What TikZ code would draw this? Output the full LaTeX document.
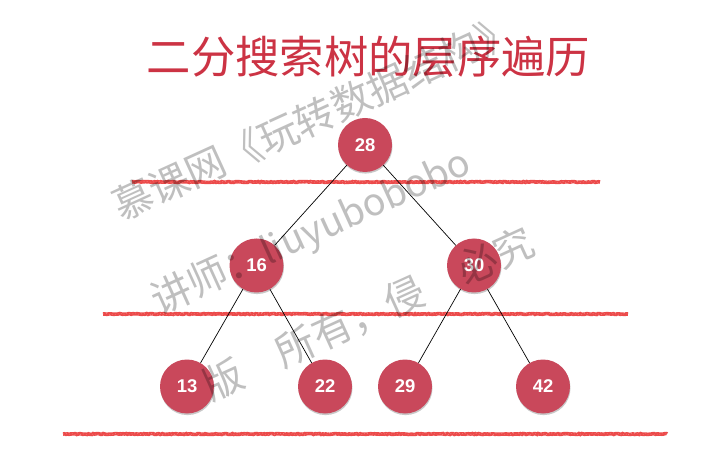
\documentclass[tikz,border=0pt]{standalone}
\usepackage{fontspec}
\setmainfont{Liberation Sans}
\newfontfamily\cjk{Noto Sans CJK SC}
\usetikzlibrary{shadows,decorations.pathmorphing}
\definecolor{nodered}{RGB}{201,72,91}
\definecolor{titlered}{RGB}{204,51,68}
\definecolor{linered}{RGB}{236,74,74}
\begin{document}
\begin{tikzpicture}[x=1bp,y=-1bp,
  treenode/.style={circle, fill=nodered, minimum size=54bp, inner sep=0pt,
    text=white, font=\bfseries\fontsize{18.5}{18.5}\selectfont,
    drop shadow={opacity=0.3, shadow xshift=0.5bp, shadow yshift=-1.6bp, fill=black!70}},
  edge/.style={draw=black, line width=0.7bp},
  sep/.style={draw=linered, line width=3.6bp, decorate,
    decoration={random steps, segment length=1.5bp, amplitude=0.45bp}},
  septex/.style={draw=white, line width=0.5bp, opacity=0.35, dash pattern=on 0.8bp off 2.3bp, decorate,
    decoration={random steps, segment length=2bp, amplitude=1bp}},
  wm/.style={text=black, text opacity=0.25, rotate=24.5, anchor=west, inner sep=0pt,
    font=\cjk\fontsize{40}{40}\selectfont}
]
\useasboundingbox (0,0) rectangle (719,451);
\fill[white] (0,0) rectangle (719,451);

% title
\node[text=titlered, font=\cjk\fontsize{44.5}{44.5}\selectfont, inner sep=0pt] (title) at (368.5,57) {二分搜索树的层序遍历};

% separators
\coordinate (s1a) at (132,182); \coordinate (s1b) at (600,182);
\coordinate (s2a) at (103,314); \coordinate (s2b) at (628,314);
\coordinate (s3a) at (63,434);  \coordinate (s3b) at (667,434);
\foreach \a/\b in {s1a/s1b, s2a/s2b, s3a/s3b}{
  \draw[sep] (\a) -- (\b);
  \draw[septex] (\a) -- (\b);
}

% nodes
\node[treenode] (n28) at (365,145) {28};
\node[treenode] (n16) at (256.5,265.5) {16};
\node[treenode] (n30) at (474,265.5) {30};
\node[treenode] (n13) at (187,386.5) {13};
\node[treenode] (n22) at (325,386.5) {22};
\node[treenode] (n29) at (405,386.5) {29};
\node[treenode] (n42) at (543,386.5) {42};

% edges
\draw[edge] (n28) -- (n16);
\draw[edge] (n28) -- (n30);
\draw[edge] (n16) -- (n13);
\draw[edge] (n16) -- (n22);
\draw[edge] (n30) -- (n29);
\draw[edge] (n30) -- (n42);

% watermark
\node[wm] (wm1) at (115,208) {慕课网《玩转数据结构》};
\node[wm] (wm2) at (154,304) {讲师：\fontsize{38}{38}\selectfont liuyubobobo};
\node[wm] (wm3) at (205,388) {版\phantom{权}所有，侵\phantom{权}必究};
\end{tikzpicture}
\end{document}
